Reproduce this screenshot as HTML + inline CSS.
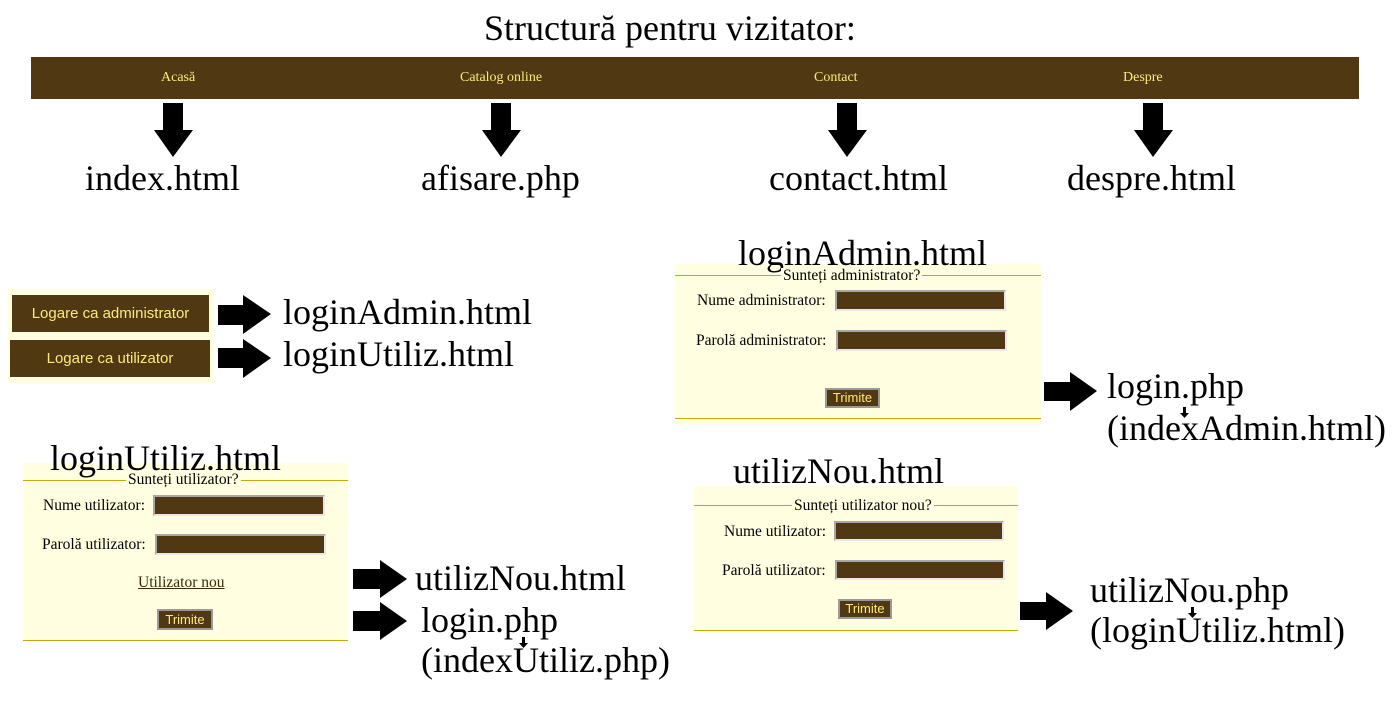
<!DOCTYPE html>
<html><head><meta charset="utf-8"><style>
body{margin:0;width:1400px;height:710px;background:#fff;position:relative;overflow:hidden;font-family:"Liberation Serif",serif;}
.a{position:absolute;white-space:nowrap;}
.big{font-size:36px;line-height:36px;color:#000;}
.nav{font-size:14px;color:#ffe97a;line-height:14px;}
.pan{position:absolute;background:#fffee0;}
.ln{position:absolute;height:1px;background:#c9a70c;}
.inp{position:absolute;background:#4f3812;border:2px solid #a8a8a8;border-right-color:#e8e8e8;border-bottom-color:#e8e8e8;box-sizing:border-box;}
.lbl{font-size:15.5px;line-height:15px;color:#000;}
.btn{position:absolute;background:#4f3812;color:#ffe97a;font-family:"Liberation Sans",sans-serif;font-size:13px;text-align:center;box-sizing:border-box;border:2px solid #999;}
.lb{position:absolute;background:#4f3812;color:#ffe97a;font-family:"Liberation Sans",sans-serif;font-size:15px;text-align:center;}
</style></head><body>
<div class="a big" style="left:484px;top:10px;font-size:36px;">Structură pentru vizitator:</div>
<div class="a" style="left:31px;top:57px;width:1328px;height:42px;background:#4f3812;"></div>
<div class="a nav" style="left:161px;top:71px;">Acasă</div>
<div class="a nav" style="left:460px;top:71px;">Catalog online</div>
<div class="a nav" style="left:814px;top:71px;">Contact</div>
<div class="a nav" style="left:1123px;top:71px;">Despre</div>

<svg class="a" style="left:0;top:0" width="1400" height="710">
<g fill="#000">
<polygon points="163,103 183,103 183,130 193,130 173,157 154,130 163,130"/>
<polygon points="491,103 511,103 511,130 521,130 501,157 482,130 491,130"/>
<polygon points="837,103 857,103 857,130 867,130 847,157 828,130 837,130"/>
<polygon points="1143,103 1163,103 1163,130 1173,130 1153,157 1134,130 1143,130"/>
<polygon points="218,305 243,305 243,295 271,314 243,334 243,325 218,325"/>
<polygon points="218,348 243,348 243,339 271,358 243,378 243,368 218,368"/>
<polygon points="353,569 380,569 380,560 407,579 380,598 380,589 353,589"/>
<polygon points="353,611 380,611 380,602 407,621 380,640 380,631 353,631"/>
<polygon points="1044,382 1070,382 1070,372 1097,391 1070,411 1070,401 1044,401"/>
<polygon points="1020,602 1046,602 1046,592 1073,611 1046,630 1046,620 1020,620"/>
<polygon points="522,637 525,637 525,643 528,643 523.5,648 519,643 522,643"/>
<polygon points="1183,407 1186,407 1186,413 1189,413 1184.5,418 1180,413 1183,413"/>
<polygon points="1191,607 1194,607 1194,613 1197,613 1192.5,618 1188,613 1191,613"/>
</g></svg>

<div class="a big" style="left:85px;top:160px;">index.html</div>
<div class="a big" style="left:421px;top:160px;">afisare.php</div>
<div class="a big" style="left:769px;top:160px;">contact.html</div>
<div class="a big" style="left:1067px;top:160px;">despre.html</div>

<div class="pan" style="left:8px;top:289px;width:206px;height:94px;"></div>
<div class="lb" style="left:12px;top:295px;width:197px;height:37px;line-height:37px;">Logare ca administrator</div>
<div class="lb" style="left:10px;top:340px;width:200px;height:37px;line-height:37px;">Logare ca utilizator</div>
<div class="a big" style="left:283px;top:294px;">loginAdmin.html</div>
<div class="a big" style="left:283px;top:336px;">loginUtiliz.html</div>

<div class="pan" style="left:23px;top:463px;width:325px;height:178px;"></div>
<div class="a big" style="left:50px;top:440px;">loginUtiliz.html</div>
<div class="ln" style="left:23px;top:480px;width:325px;"></div>
<div class="a lbl" style="left:126px;top:472px;background:#fffee0;padding:0 2px;">Sunteți utilizator?</div>
<div class="a lbl" style="left:43px;top:498px;">Nume utilizator:</div>
<div class="inp" style="left:153px;top:495px;width:172px;height:21px;"></div>
<div class="a lbl" style="left:42px;top:537px;">Parolă utilizator:</div>
<div class="inp" style="left:155px;top:534px;width:171px;height:21px;"></div>
<div class="a lbl" style="left:138px;top:575px;text-decoration:underline;color:#3a2a08;">Utilizator nou</div>
<div class="btn" style="left:157px;top:609px;width:56px;height:21px;line-height:17px;">Trimite</div>
<div class="ln" style="left:23px;top:640px;width:325px;"></div>
<div class="a big" style="left:415px;top:560px;">utilizNou.html</div>
<div class="a big" style="left:421px;top:602px;">login.php</div>
<div class="a big" style="left:421px;top:642px;">(indexUtiliz.php)</div>

<div class="pan" style="left:675px;top:264px;width:366px;height:161px;"></div>
<div class="a big" style="left:738px;top:235px;">loginAdmin.html</div>
<div class="ln" style="left:675px;top:275px;width:366px;"></div>
<div class="a lbl" style="left:781px;top:268px;background:#fffee0;padding:0 2px;">Sunteți administrator?</div>
<div class="a lbl" style="left:697px;top:293px;">Nume administrator:</div>
<div class="inp" style="left:835px;top:290px;width:171px;height:21px;"></div>
<div class="a lbl" style="left:696px;top:333px;">Parolă administrator:</div>
<div class="inp" style="left:836px;top:330px;width:171px;height:21px;"></div>
<div class="btn" style="left:825px;top:388px;width:55px;height:20px;line-height:16px;">Trimite</div>
<div class="ln" style="left:675px;top:418px;width:366px;"></div>
<div class="a big" style="left:1107px;top:368px;">login.php</div>
<div class="a big" style="left:1107px;top:410px;">(indexAdmin.html)</div>

<div class="pan" style="left:694px;top:486px;width:324px;height:147px;"></div>
<div class="a big" style="left:733px;top:453px;">utilizNou.html</div>
<div class="ln" style="left:694px;top:505px;width:324px;"></div>
<div class="a lbl" style="left:792px;top:498px;background:#fffee0;padding:0 2px;">Sunteți utilizator nou?</div>
<div class="a lbl" style="left:724px;top:524px;">Nume utilizator:</div>
<div class="inp" style="left:834px;top:521px;width:170px;height:20px;"></div>
<div class="a lbl" style="left:722px;top:563px;">Parolă utilizator:</div>
<div class="inp" style="left:835px;top:560px;width:170px;height:20px;"></div>
<div class="btn" style="left:838px;top:599px;width:54px;height:20px;line-height:16px;">Trimite</div>
<div class="ln" style="left:694px;top:630px;width:324px;"></div>
<div class="a big" style="left:1090px;top:572px;">utilizNou.php</div>
<div class="a big" style="left:1090px;top:612px;">(loginUtiliz.html)</div>
</body></html>
